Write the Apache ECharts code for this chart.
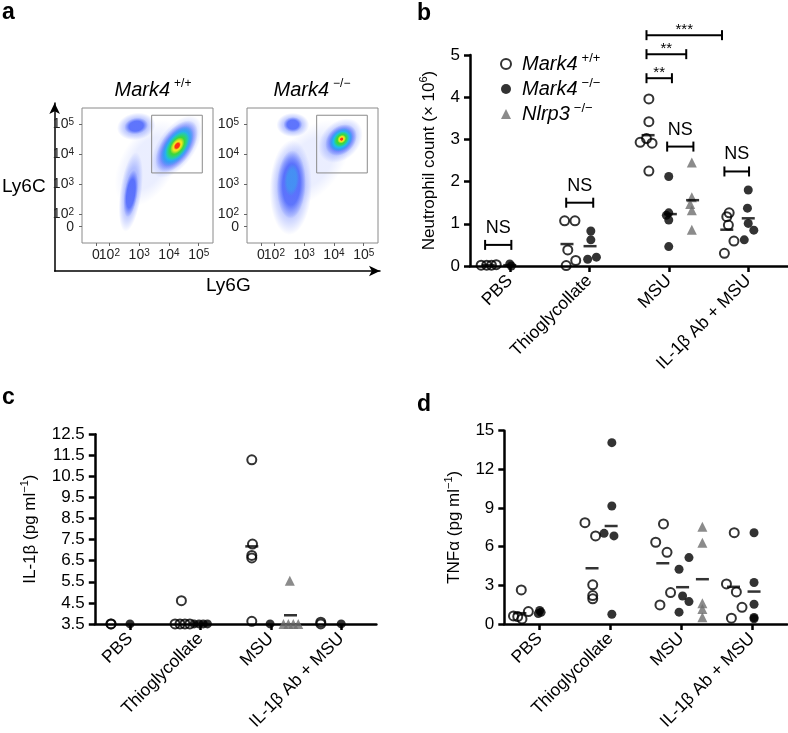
<!DOCTYPE html>
<html>
<head>
<meta charset="utf-8">
<script src="https://cdn.jsdelivr.net/npm/echarts@6.0.0/dist/echarts.min.js"></script>
<style>
  html, body { margin: 0; padding: 0; background: #fff; }
  #chart { width: 788px; height: 733px; }
</style>
</head>
<body>
<div id="chart"></div>
<script>
// ---- panel a: flow cytometry (axes in decades, 10^k -> k) ----
const flowXTicks = [2, 3, 4, 5];
const flowYTicks = [2, 3, 4, 5];
const flowTickLabels = ["{n|10}{s|2}", "{n|10}{s|3}", "{n|10}{s|4}", "{n|10}{s|5}"];
// where "0" sits on the compressed low end
const flowXZero = [1.55];
const flowYZero = [1.6];
// gate: x1, x2, y1, y2
const flowGate = [3.42, 5.12, 3.38, 5.29];
// density populations: cx, cy, major, minor, angle (deg), density level
const wtPopulations = [
  [3.3, 3.7, 1.6, 0.9, 60, 0],
  [2.72, 2.75, 1.35, 0.36, 82, 1],
  [2.72, 2.7, 0.8, 0.22, 82, 2],
  [2.9, 4.92, 0.65, 0.45, 10, 1],
  [2.9, 4.93, 0.4, 0.27, 10, 2],
  [4.25, 4.25, 1.2, 0.62, 55, 1],
  [4.26, 4.26, 1.0, 0.52, 55, 2],
  [4.27, 4.27, 0.78, 0.4, 55, 3],
  [4.28, 4.27, 0.55, 0.3, 55, 4],
  [4.28, 4.28, 0.32, 0.19, 55, 5],
  [4.28, 4.28, 0.15, 0.1, 55, 6]
];
const koPopulations = [
  [3.2, 3.7, 1.7, 1.0, 50, 0],
  [2.55, 2.9, 1.6, 0.7, 88, 1],
  [2.57, 3.0, 1.15, 0.48, 88, 2],
  [2.58, 3.15, 0.55, 0.25, 85, 7],
  [2.62, 4.97, 0.55, 0.4, 0, 1],
  [2.62, 4.98, 0.32, 0.25, 0, 2],
  [4.22, 4.45, 0.85, 0.62, 45, 1],
  [4.24, 4.47, 0.6, 0.45, 45, 2],
  [4.24, 4.48, 0.45, 0.34, 45, 3],
  [4.25, 4.49, 0.3, 0.23, 45, 4],
  [4.26, 4.5, 0.16, 0.13, 45, 5],
  [4.26, 4.5, 0.07, 0.06, 45, 6]
];

// ---- panels b-d: x = group index + column offset ----
const groups = ["PBS", "Thioglycollate", "MSU", "IL-1β Ab + MSU"];
const groupTicks = [0, 1, 2, 3];

// b: neutrophil count (x 10^6)
const bWT = [
  [-0.36, 0.02], [-0.29, 0.02], [-0.23, 0.02], [-0.17, 0.03],
  [0.69, 1.07], [0.82, 1.07], [0.73, 0.38], [0.71, 0.01], [0.83, 0.13],
  [1.75, 3.96], [1.75, 3.42], [1.64, 2.93], [1.72, 3.02], [1.79, 2.91], [1.75, 2.25],
  [2.76, 1.26], [2.73, 1.17], [2.75, 0.97], [2.82, 0.59], [2.70, 0.30]
];
const bKO = [
  [0.0, 0.05], [0.02, 0.0],
  [1.02, 0.83], [1.02, 0.62], [0.98, 0.16], [1.09, 0.21],
  [2.0, 2.12], [2.0, 1.26], [1.97, 1.2], [2.0, 1.09], [2.0, 0.46],
  [3.0, 1.80], [2.99, 1.37], [3.0, 1.01], [3.07, 0.85], [2.95, 0.62]
];
const bNlrp3 = [[2.29, 2.45], [2.29, 1.63], [2.27, 1.47], [2.29, 1.32], [2.29, 0.86]];
const bMeans = [[-0.27, 0.02], [0.0, 0.02], [0.72, 0.52], [1.01, 0.47], [1.74, 3.1], [2.02, 1.23], [2.3, 1.56], [2.73, 0.86], [3.0, 1.13]];
const bBrackets = [[-0.31, 0.02, 0.5], [0.71, 1.05, 1.5], [1.98, 2.31, 2.83], [2.70, 3.01, 2.24], [1.72, 2.04, 4.45], [1.72, 2.22, 5.02], [1.72, 2.67, 5.47]];
const bBracketLabels = ["NS", "NS", "NS", "NS", "**", "**", "***"];

// c: IL-1beta (pg/ml)
const cTicks = [3.5, 4.5, 5.5, 6.5, 7.5, 8.5, 9.5, 10.5, 11.5, 12.5];
const cWT = [
  [-0.27, 3.5], [-0.27, 3.5],
  [0.64, 3.5], [0.71, 3.5], [0.78, 3.5], [0.85, 3.5], [0.73, 4.6],
  [1.73, 11.29], [1.74, 7.29], [1.73, 6.75], [1.73, 6.63], [1.73, 3.62],
  [2.71, 3.58], [2.71, 3.5]
];
const cKO = [[0.0, 3.5], [0.91, 3.5], [0.98, 3.5], [1.04, 3.5], [1.10, 3.5], [1.99, 3.5], [3.0, 3.5]];
const cNlrp3 = [[2.18, 3.5], [2.25, 3.5], [2.32, 3.5], [2.39, 3.5], [2.27, 5.55]];
const cMeans = [[1.73, 7.18], [2.28, 3.91]];

// d: TNFalpha (pg/ml)
const dWT = [
  [-0.37, 0.62], [-0.26, 2.64], [-0.31, 0.57], [-0.25, 0.39], [-0.16, 0.96],
  [0.64, 7.86], [0.79, 6.83], [0.75, 3.03], [0.75, 2.2], [0.75, 1.95],
  [1.64, 6.34], [1.75, 7.76], [1.80, 5.56], [1.85, 2.43], [1.70, 1.47],
  [2.75, 7.08], [2.64, 3.1], [2.78, 2.48], [2.86, 1.29], [2.71, 0.44]
];
const dKO = [
  [0.0, 1.05], [0.02, 0.9], [-0.02, 0.8],
  [1.02, 14.07], [1.02, 9.15], [0.91, 7.03], [1.05, 6.83], [1.02, 0.75],
  [2.11, 5.15], [1.97, 4.24], [2.02, 2.17], [2.11, 1.73], [1.97, 0.91],
  [3.03, 7.08], [3.03, 3.21], [3.03, 1.53], [3.03, 0.5], [3.03, 0.4]
];
const dNlrp3 = [[2.30, 7.55], [2.30, 6.31], [2.30, 1.6], [2.30, 1.16], [2.30, 0.52]];
const dMeans = [[-0.28, 0.83], [0.74, 4.32], [1.01, 7.6], [1.74, 4.71], [2.02, 2.85], [2.30, 3.47], [2.74, 2.88], [3.03, 2.51]];

const FONT = '"Liberation Sans", Arial, Helvetica, sans-serif';
const WT = "Mark4 +/+";
const KO = "Mark4 −/−";
const NL = "Nlrp3 −/−";

const blobColors = [
  "rgba(110,135,255,0.14)",
  "rgba(70,100,255,0.34)",
  "rgba(35,65,250,0.62)",
  "rgba(20,200,235,0.95)",
  "rgba(60,215,60,1)",
  "rgba(240,230,30,1)",
  "rgba(255,50,20,1)",
  "rgba(40,190,230,0.4)"
];
// superscript styles
const titleRich = {
  i: { fontSize: 20, fontFamily: FONT, fontStyle: "italic", color: "#000", lineHeight: 24 },
  s: { fontSize: 12, fontFamily: FONT, color: "#000", lineHeight: 12, verticalAlign: "top", padding: [0, 0, 0, 4] }
};
const nameRich = {
  n: { fontSize: 17, fontFamily: FONT, color: "#000", lineHeight: 22 },
  s: { fontSize: 11, fontFamily: FONT, color: "#000", lineHeight: 12, verticalAlign: "top" }
};

function renderBlob(params, api) {
  const c = api.coord([api.value(0), api.value(1)]);
  const s = api.size([api.value(2), api.value(3)]);
  const col = blobColors[api.value(5)];
  return {
    type: "circle",
    x: c[0],
    y: c[1],
    rotation: (api.value(4) * Math.PI) / 180,
    scaleX: s[0],
    scaleY: s[1],
    shape: { cx: 0, cy: 0, r: 1 },
    style: {
      fill: new echarts.graphic.RadialGradient(0.5, 0.5, 0.5, [
        { offset: 0, color: col },
        { offset: 0.6, color: col },
        { offset: 1, color: col.replace(/[\d.]+\)$/, "0)") }
      ])
    }
  };
}

function renderGate(params, api) {
  const p1 = api.coord([api.value(0), api.value(3)]);
  const p2 = api.coord([api.value(1), api.value(2)]);
  return {
    type: "rect",
    shape: { x: p1[0], y: p1[1], width: p2[0] - p1[0], height: p2[1] - p1[1] },
    style: { fill: "none", stroke: "#8a8a8a", lineWidth: 1 }
  };
}

function renderBracket(params, api) {
  const a = api.coord([api.value(0), api.value(2)]);
  const b = api.coord([api.value(1), api.value(2)]);
  const lab = bBracketLabels[params.dataIndex];
  const star = lab.indexOf("*") >= 0;
  const line = (x1, y1, x2, y2) => ({
    type: "line",
    shape: { x1, y1, x2, y2 },
    style: { stroke: "#000", lineWidth: 2 }
  });
  return {
    type: "group",
    children: [
      line(a[0], a[1], b[0], b[1]),
      line(a[0], a[1] - 5, a[0], a[1] + 5),
      line(b[0], b[1] - 5, b[0], b[1] + 5),
      {
        type: "text",
        x: (a[0] + b[0]) / 2,
        y: star ? a[1] - 5 : a[1] - 8,
        style: {
          text: lab,
          font: (star ? "15px " : "18px ") + FONT,
          fill: "#000",
          align: "center",
          verticalAlign: star ? "middle" : "bottom"
        }
      }
    ]
  };
}

function flowLabel(v, ticks) {
  for (let i = 0; i < ticks.length; i++) {
    if (Math.abs(ticks[i] - v) < 1e-6) return flowTickLabels[i];
  }
  return "";
}

const flowRich = {
  n: { fontSize: 14, fontFamily: FONT, color: "#222" },
  s: { fontSize: 10, fontFamily: FONT, color: "#222", verticalAlign: "top", lineHeight: 10 }
};
const flowExtentX = { min: 1.08, max: 5.48 };
const flowExtentY = { min: 1.06, max: 5.53 };

// flow axis: decades, or (zero = true) only the "0" mark
function flowAxis(gi, isX, zero) {
  const ticks = zero ? (isX ? flowXZero : flowYZero) : (isX ? flowXTicks : flowYTicks);
  return Object.assign({
    type: "value", gridIndex: gi,
    position: isX ? "bottom" : "left",
    axisLine: { show: false, onZero: false },
    splitLine: { show: false },
    axisTick: { show: true, customValues: ticks, length: 3, lineStyle: { color: "#666" } },
    axisLabel: {
      customValues: ticks,
      formatter: v => (zero ? "0" : flowLabel(v, ticks)),
      margin: isX ? 5 : 8,
      fontSize: 14, fontFamily: FONT, color: "#222",
      rich: flowRich, showMinLabel: true, showMaxLabel: true
    }
  }, isX ? flowExtentX : flowExtentY);
}

function groupX(gi) {
  return {
    type: "value", gridIndex: gi, min: -0.5, max: 3.5,
    axisLine: { show: true, onZero: false, lineStyle: { color: "#000", width: 2.5 } },
    splitLine: { show: false },
    axisTick: { show: true, customValues: groupTicks, length: 6, lineStyle: { color: "#000", width: 2.5 } },
    axisLabel: {
      customValues: groupTicks,
      formatter: v => groups[Math.round(v)],
      rotate: 45, margin: 12, fontSize: 17.5, fontFamily: FONT, color: "#000"
    }
  };
}
function valueY(gi, opts) {
  return Object.assign({
    type: "value", gridIndex: gi,
    axisLine: { show: true, onZero: false, lineStyle: { color: "#000", width: 2.5 } },
    splitLine: { show: false },
    axisTick: { show: true, length: 6, lineStyle: { color: "#000", width: 2.5 } },
    axisLabel: { fontSize: 17, fontFamily: FONT, color: "#000", margin: 10 },
    nameLocation: "middle",
    nameRotate: 90,
    nameTextStyle: { fontSize: 17, fontFamily: FONT, color: "#000", rich: nameRich }
  }, opts);
}

function dotSeries(gi, wt, ko, nl, means) {
  const base = { type: "scatter", xAxisIndex: gi, yAxisIndex: gi, silent: true, z: 3 };
  return [
    Object.assign({}, base, {
      name: WT, data: wt, symbol: "circle", symbolSize: 9,
      itemStyle: { color: "rgba(255,255,255,0)", borderColor: "#000", borderWidth: 2 }
    }),
    Object.assign({}, base, {
      name: KO, data: ko, symbol: "circle", symbolSize: 9, itemStyle: { color: "#000" }
    }),
    Object.assign({}, base, {
      name: NL, data: nl, symbol: "triangle", symbolSize: 10, itemStyle: { color: "#6e6e6e" }
    }),
    Object.assign({}, base, {
      name: "mean", data: means, symbol: "rect", symbolSize: [13, 2.5], z: 4, itemStyle: { color: "#000" }
    })
  ];
}

const chart = echarts.init(document.getElementById("chart"), null, { renderer: "canvas" });

const option = {
  animation: false,
  backgroundColor: "#fff",
  textStyle: { fontFamily: FONT },
  grid: [
    { left: 82, top: 108, width: 131, height: 135, show: true, borderColor: "#8a8a8a", borderWidth: 1, backgroundColor: "transparent" },
    { left: 247, top: 108, width: 131, height: 135, show: true, borderColor: "#8a8a8a", borderWidth: 1, backgroundColor: "transparent" },
    { left: 470, top: 55, width: 318, height: 211 },
    { left: 94.8, top: 434.3, width: 281.6, height: 190 },
    { left: 504.3, top: 430.7, width: 283, height: 193.3 },
    { left: 49, top: 103, width: 331, height: 168 }
  ],
  xAxis: [
    flowAxis(0, true, false),
    flowAxis(1, true, false),
    groupX(2),
    groupX(3),
    groupX(4),
    {
      type: "value", gridIndex: 5, min: 0, max: 1,
      axisLine: { show: true, onZero: false, symbol: ["none", "arrow"], symbolSize: [8, 11], lineStyle: { color: "#000", width: 1.5 } },
      axisTick: { show: false }, axisLabel: { show: false }, splitLine: { show: false },
      name: "Ly6G", nameLocation: "middle", nameGap: 5,
      nameTextStyle: { fontSize: 19, fontFamily: FONT, color: "#000", verticalAlign: "top", padding: [0, 0, 0, 22] }
    },
    flowAxis(0, true, true),
    flowAxis(1, true, true)
  ],
  yAxis: [
    flowAxis(0, false, false),
    flowAxis(1, false, false),
    valueY(2, {
      min: 0, max: 5, interval: 1,
      name: "{n|Neutrophil count (× 10}{s|6}{n|)}", nameGap: 30
    }),
    valueY(3, {
      min: 3.5, max: 12.5,
      axisTick: { show: true, customValues: cTicks, length: 6, lineStyle: { color: "#000", width: 2.5 } },
      axisLabel: { customValues: cTicks, formatter: v => v.toFixed(1), fontSize: 17, fontFamily: FONT, color: "#000", margin: 10 },
      name: "{n|IL-1β (pg ml}{s|−1}{n|)}", nameGap: 53
    }),
    valueY(4, {
      min: 0, max: 15, interval: 3,
      name: "{n|TNFα (pg ml}{s|−1}{n|)}", nameGap: 39
    }),
    {
      type: "value", gridIndex: 5, min: 0, max: 1,
      axisLine: { show: true, onZero: false, symbol: ["none", "arrow"], symbolSize: [8, 11], lineStyle: { color: "#000", width: 1.5 } },
      axisTick: { show: false }, axisLabel: { show: false }, splitLine: { show: false },
      name: "Ly6C", nameLocation: "middle", nameRotate: 0, nameGap: 9,
      nameTextStyle: { fontSize: 19, fontFamily: FONT, color: "#000", align: "right" }
    },
    flowAxis(0, false, true),
    flowAxis(1, false, true)
  ],
  legend: {
    orient: "vertical",
    left: 495,
    top: 47,
    itemWidth: 10,
    itemHeight: 10,
    itemGap: 3,
    selectedMode: false,
    data: [
      { name: WT, icon: "circle", itemStyle: { color: "rgba(255,255,255,0)", borderColor: "#000", borderWidth: 2 } },
      { name: KO, icon: "circle", itemStyle: { color: "#000" } },
      { name: NL, icon: "triangle", itemStyle: { color: "#6e6e6e" } }
    ],
    formatter: name => {
      const p = name.split(" ");
      return "{i|" + p[0] + "}{s|" + p[1] + "}";
    },
    textStyle: {
      fontFamily: FONT,
      fontSize: 20,
      rich: {
        i: { fontSize: 20, fontFamily: FONT, fontStyle: "italic", color: "#000", lineHeight: 24, padding: [0, 0, 0, 6] },
        s: { fontSize: 13, fontFamily: FONT, color: "#000", lineHeight: 13, verticalAlign: "top", padding: [0, 0, 0, 4] }
      }
    }
  },
  graphic: [
    { type: "text", x: 2, y: 1, style: { text: "a", font: "bold 23px " + FONT, fill: "#000" } },
    { type: "text", x: 417, y: 2, style: { text: "b", font: "bold 23px " + FONT, fill: "#000" } },
    { type: "text", x: 2, y: 386, style: { text: "c", font: "bold 23px " + FONT, fill: "#000" } },
    { type: "text", x: 417, y: 393, style: { text: "d", font: "bold 23px " + FONT, fill: "#000" } },
    {
      type: "text", x: 153, y: 90,
      style: { text: "{i|Mark4}{s|+/+}", rich: titleRich, align: "center", verticalAlign: "middle" }
    },
    {
      type: "text", x: 312, y: 90,
      style: { text: "{i|Mark4}{s|−/−}", rich: titleRich, align: "center", verticalAlign: "middle" }
    }
  ],
  series: [
    { type: "custom", xAxisIndex: 0, yAxisIndex: 0, data: wtPopulations, renderItem: renderBlob, clip: true, silent: true },
    { type: "custom", xAxisIndex: 1, yAxisIndex: 1, data: koPopulations, renderItem: renderBlob, clip: true, silent: true },
    { type: "custom", xAxisIndex: 0, yAxisIndex: 0, data: [flowGate], renderItem: renderGate, silent: true, z: 5 },
    { type: "custom", xAxisIndex: 1, yAxisIndex: 1, data: [flowGate], renderItem: renderGate, silent: true, z: 5 },
    { type: "custom", xAxisIndex: 2, yAxisIndex: 2, data: bBrackets, renderItem: renderBracket, silent: true, z: 5 }
  ]
    .concat(dotSeries(2, bWT, bKO, bNlrp3, bMeans))
    .concat(dotSeries(3, cWT, cKO, cNlrp3, cMeans))
    .concat(dotSeries(4, dWT, dKO, dNlrp3, dMeans))
};

chart.setOption(option);
</script>
</body>
</html>
